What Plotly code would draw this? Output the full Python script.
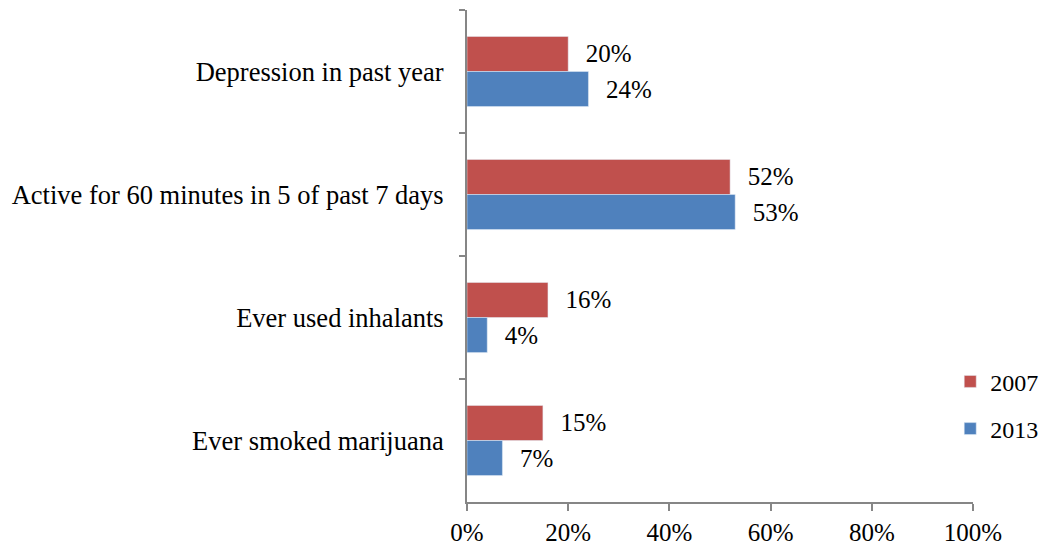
import plotly.graph_objects as go

# categorias de cima para baixo
categorias = ["Depression in past year",
              "Active for 60 minutes in 5 of past 7 days",
              "Ever used inhalants",
              "Ever smoked marijuana"]
valores_2007 = [0.20, 0.52, 0.16, 0.15]
valores_2013 = [0.24, 0.53, 0.04, 0.07]
ticks_x = [0, 0.2, 0.4, 0.6, 0.8, 1.0]
rotulos_x = ["0%", "20%", "40%", "60%", "80%", "100%"]

fonte = dict(family="Liberation Serif", size=25, color="black")
fonte_cat = dict(family="Liberation Serif", size=26.5, color="black")
fonte_leg = dict(family="Liberation Serif", size=24, color="black")
cinza = "#868686"

fig = go.Figure()
fig.add_trace(go.Bar(y=categorias, x=valores_2007, name="2007", orientation="h",
                     marker=dict(color="#C0504D"), legendgroup="a",
                     text=valores_2007, texttemplate="\u2002\u200a%{x:.0%}",
                     textposition="outside", cliponaxis=False, textfont=fonte))
fig.add_trace(go.Bar(y=categorias, x=valores_2013, name="2013", orientation="h",
                     marker=dict(color="#4F81BD"), legendgroup="b",
                     text=valores_2013, texttemplate="\u2002\u200a%{x:.0%}",
                     textposition="outside", cliponaxis=False, textfont=fonte))

fig.update_layout(
    width=1042, height=546,
    margin=dict(l=467, r=69, t=10, b=44, autoexpand=False),
    barmode="group", bargap=0.43, bargroupgap=0,
    plot_bgcolor="white", paper_bgcolor="white",
    font=fonte,
    showlegend=True,
    legend=dict(x=0.955, xanchor="left", y=0.29, yanchor="top",
                traceorder="grouped", tracegroupgap=13,
                font=fonte_leg, bgcolor="rgba(0,0,0,0)"),
)
fig.update_xaxes(range=[0, 1], tickvals=ticks_x, ticktext=rotulos_x,
                 showline=True, linecolor=cinza, linewidth=2,
                 ticks="outside", ticklen=7, tickwidth=2, tickcolor=cinza,
                 showgrid=False, zeroline=False, tickfont=fonte)
fig.update_yaxes(autorange="reversed", type="category", tickson="boundaries",
                 showline=True, linecolor=cinza, linewidth=2,
                 ticks="outside", ticklen=6, tickwidth=2, tickcolor=cinza,
                 showgrid=False, tickfont=fonte_cat, ticklabelstandoff=16)

# tira a margem padrão do body para a figura ocupar a janela toda
fig.write_html("out.html", config={"displayModeBar": False},
               post_script="document.body.style.margin='0';document.body.style.overflow='hidden';")
